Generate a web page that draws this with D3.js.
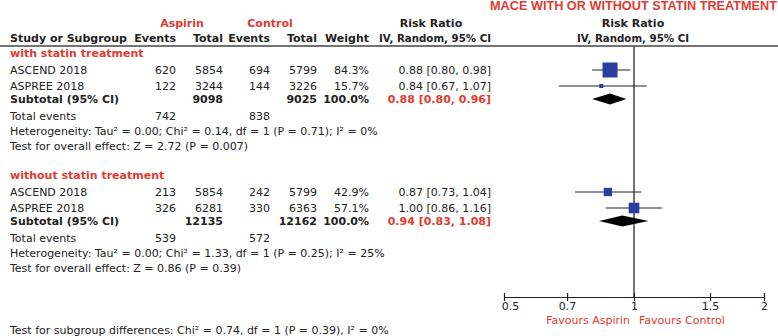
<!DOCTYPE html>
<html>
<head>
<meta charset="utf-8">
<script src="https://cdn.jsdelivr.net/npm/d3@7"></script>
<style>
  body { margin: 0; background: #fff; }
  svg text { font-family: "DejaVu Sans", sans-serif; font-size: 11px; fill: #222; }
</style>
</head>
<body>
<div id="vis-forest"></div>
<script>
        // Data
        const groupLabels = ["with statin treatment", "without statin treatment"];
        const studyNames = ["ASCEND 2018", "ASPREE 2018", "ASCEND 2018", "ASPREE 2018"];
        const studyGroup = [0, 0, 1, 1];
        const aspirinEvents = [620, 122, 213, 326];
        const aspirinTotal = [5854, 3244, 5854, 6281];
        const controlEvents = [694, 144, 242, 330];
        const controlTotal = [5799, 3226, 5799, 6363];
        const weights = [84.3, 15.7, 42.9, 57.1];
        const riskRatio = [0.88, 0.84, 0.87, 1.00];
        const ciLow = [0.80, 0.67, 0.73, 0.86];
        const ciHigh = [0.98, 1.07, 1.04, 1.16];

        const subtotalAspirin = [9098, 12135];
        const subtotalControl = [9025, 12162];
        const subtotalRR = [0.88, 0.94];
        const subtotalLow = [0.80, 0.83];
        const subtotalHigh = [0.96, 1.08];
        const totalEventsAspirin = [742, 539];
        const totalEventsControl = [838, 572];
        const tau2 = ["0.00", "0.00"];
        const chi2 = ["0.14", "1.33"];
        const dfs = [1, 1];
        const hetP = ["0.71", "0.25"];
        const i2 = ["0%", "25%"];
        const zValues = ["2.72", "0.86"];
        const zP = ["0.007", "0.39"];
        const subgroupDiff = { chi2: "0.74", df: 1, p: "0.39", i2: "0%" };

        const axisTicks = [0.5, 0.7, 1, 1.5, 2];

        const red = "#e03c31";
        const blue = "#2a3e9e";

        const width = 778, height = 336;
        const svg = d3.select("#vis-forest")
            .append("svg")
            .attr("width", width)
            .attr("height", height);

        // column positions (right edges for numbers)
        const col = { study: 10, aE: 176, aT: 223, cE: 270, cT: 317, w: 369, rr: 491 };
        const groupTop = [53, 175];
        const rowOff = { label: 0, s0: 17, s1: 33, sub: 46, tot: 63, het: 78, test: 93 };

        const x = d3.scaleLog()
            .domain([0.5, 2])
            .range([504, 764]);
        const boxSize = d3.scaleLinear()
            .domain([0, 100])
            .range([1.5, 17.5]);

        const axisY = 297;
        const plotTop = 46;

        function txt(xp, yp, s, opts = {}) {
            const t = svg.append("text")
                .attr("x", xp)
                .attr("y", yp)
                .attr("dy", "0.35em")
                .style("text-anchor", opts.anchor || "start")
                .text(s);
            if (opts.bold) t.style("font-weight", "bold");
            if (opts.color) t.style("fill", opts.color);
            if (opts.len) t.attr("textLength", opts.len).attr("lengthAdjust", "spacingAndGlyphs");
            return t;
        }

        // title (clipped at the top in the original, kept just inside here)
        svg.append("text")
            .attr("x", 490)
            .attr("y", 9.5)
            .attr("textLength", 287)
            .attr("lengthAdjust", "spacingAndGlyphs")
            .style("font-family", "'Liberation Sans Narrow', 'Liberation Sans', sans-serif")
            .style("font-size", "12.5px")
            .style("font-weight", "bold")
            .style("fill", red)
            .text("MACE WITH OR WITHOUT STATIN TREATMENT");

        // header
        txt(182, 23, "Aspirin", { anchor: "middle", bold: true, color: red });
        txt(270, 23, "Control", { anchor: "middle", bold: true, color: red });
        txt(col.study, 38, "Study or Subgroup", { bold: true });
        txt(col.aE, 38, "Events", { anchor: "end", bold: true });
        txt(col.aT, 38, "Total", { anchor: "end", bold: true });
        txt(col.cE, 38, "Events", { anchor: "end", bold: true });
        txt(col.cT, 38, "Total", { anchor: "end", bold: true });
        txt(col.w, 38, "Weight", { anchor: "end", bold: true });
        txt(431, 23, "Risk Ratio", { anchor: "middle", bold: true });
        txt(379, 38, "IV, Random, 95% CI", { bold: true, len: 112 });
        txt(633, 23, "Risk Ratio", { anchor: "middle", bold: true });
        txt(577, 38, "IV, Random, 95% CI", { bold: true, len: 112 });

        svg.append("line")
            .attr("x1", 0).attr("x2", width)
            .attr("y1", 46).attr("y2", 46)
            .attr("stroke", "#444")
            .attr("stroke-width", 1.5);

        // null line
        svg.append("line")
            .attr("x1", x(1)).attr("x2", x(1))
            .attr("y1", plotTop).attr("y2", axisY)
            .attr("stroke", "#444")
            .attr("stroke-width", 1.5);

        const fmt2 = d3.format(".2f");
        const ciText = (m, l, h) => `${fmt2(m)} [${fmt2(l)}, ${fmt2(h)}]`;

        groupLabels.forEach((g, gi) => {
            const y0 = groupTop[gi];
            txt(col.study, y0, g, { bold: true, color: red });

            const idx = studyGroup.map((v, i) => v === gi ? i : -1).filter(i => i >= 0);
            idx.forEach((i, k) => {
                const y = y0 + (k === 0 ? rowOff.s0 : rowOff.s1);
                txt(col.study, y, studyNames[i]);
                txt(col.aE, y, aspirinEvents[i], { anchor: "end" });
                txt(col.aT, y, aspirinTotal[i], { anchor: "end" });
                txt(col.cE, y, controlEvents[i], { anchor: "end" });
                txt(col.cT, y, controlTotal[i], { anchor: "end" });
                txt(col.w, y, weights[i].toFixed(1) + "%", { anchor: "end" });
                txt(col.rr, y, ciText(riskRatio[i], ciLow[i], ciHigh[i]), { anchor: "end" });

                svg.append("line")
                    .attr("x1", x(ciLow[i])).attr("x2", x(ciHigh[i]))
                    .attr("y1", y).attr("y2", y)
                    .attr("stroke", "#222")
                    .attr("stroke-width", 1.2);
                const s = boxSize(weights[i]);
                svg.append("rect")
                    .attr("x", x(riskRatio[i]) - s / 2)
                    .attr("y", y - s / 2)
                    .attr("width", s)
                    .attr("height", s)
                    .attr("fill", blue);
            });

            const ys = y0 + rowOff.sub;
            txt(col.study, ys, "Subtotal (95% CI)", { bold: true });
            txt(col.aT, ys, subtotalAspirin[gi], { anchor: "end", bold: true });
            txt(col.cT, ys, subtotalControl[gi], { anchor: "end", bold: true });
            txt(col.w, ys, "100.0%", { anchor: "end", bold: true });
            txt(col.rr, ys, ciText(subtotalRR[gi], subtotalLow[gi], subtotalHigh[gi]), { anchor: "end", bold: true, color: red });

            const dh = 5.5;
            svg.append("path")
                .attr("d", `M${x(subtotalLow[gi])},${ys} L${x(subtotalRR[gi])},${ys - dh} L${x(subtotalHigh[gi])},${ys} L${x(subtotalRR[gi])},${ys + dh} Z`)
                .attr("fill", "#000");

            const yt = y0 + rowOff.tot;
            txt(col.study, yt, "Total events");
            txt(col.aE, yt, totalEventsAspirin[gi], { anchor: "end" });
            txt(col.cE, yt, totalEventsControl[gi], { anchor: "end" });

            txt(col.study, y0 + rowOff.het,
                `Heterogeneity: Tau² = ${tau2[gi]}; Chi² = ${chi2[gi]}, df = ${dfs[gi]} (P = ${hetP[gi]}); I² = ${i2[gi]}`);
            txt(col.study, y0 + rowOff.test,
                `Test for overall effect: Z = ${zValues[gi]} (P = ${zP[gi]})`);
        });

        txt(col.study, 330,
            `Test for subgroup differences: Chi² = ${subgroupDiff.chi2}, df = ${subgroupDiff.df} (P = ${subgroupDiff.p}), I² = ${subgroupDiff.i2}`);

        // axis
        const axis = d3.axisBottom(x)
            .tickValues(axisTicks)
            .tickFormat(d => String(d))
            .tickSizeOuter(0)
            .tickSizeInner(4);

        const ax = svg.append("g")
            .attr("transform", `translate(0,${axisY})`)
            .call(axis);
        ax.select(".domain").attr("stroke", "#222").attr("stroke-width", 1.2);
        ax.selectAll(".tick line").attr("y1", -4).attr("y2", 4).attr("stroke", "#222").attr("stroke-width", 1.2);
        ax.selectAll(".tick text")
            .attr("y", 5)
            .attr("dy", "0.71em")
            .attr("x", (d, i) => i === 0 ? 6 : 0)
            .style("font-size", "11px")
            .style("font-family", "'DejaVu Sans', sans-serif")
            .attr("fill", "#222");

        txt(x(1) - 4, 320, "Favours Aspirin", { anchor: "end", color: red });
        txt(x(1) + 5, 320, "Favours Control", { color: red });
</script>
</body>
</html>
